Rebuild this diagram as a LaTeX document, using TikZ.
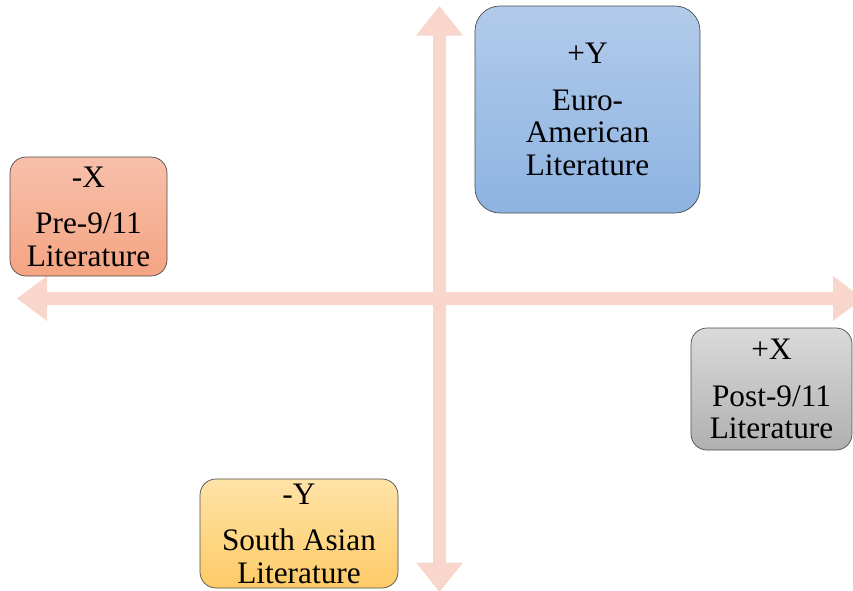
\documentclass[tikz,border=0pt]{standalone}
\usepackage{fontspec}
\setmainfont{Liberation Serif}
\usetikzlibrary{calc}
\begin{document}
\begin{tikzpicture}[x=1pt,y=-1pt,
  box/.style={draw=black!70, line width=0.7pt, rounded corners=16pt, align=center,
    inner sep=0pt, font=\fontsize{31.3}{32.5}\selectfont, text=black},
  axis/.style={fill=axispink, draw=none},
]
\definecolor{axispink}{HTML}{F8D6CB}
\definecolor{bluetop}{HTML}{B2CBEA}
\definecolor{bluebot}{HTML}{8DB3E2}
\definecolor{redtop}{HTML}{F7C0AB}
\definecolor{redbot}{HTML}{F4A482}
\definecolor{graytop}{HTML}{DADADA}
\definecolor{graybot}{HTML}{B0B0B0}
\definecolor{yeltop}{HTML}{FFE3A8}
\definecolor{yelbot}{HTML}{FDCB66}
\useasboundingbox (0,0) rectangle (853,590);
\clip (0,0) rectangle (853,590);
% axes
\coordinate (hl) at (17,298.5);
\coordinate (hr) at (863,298.5);
\coordinate (vt) at (439.5,6);
\coordinate (vb) at (439.5,592);
\path[axis] (hl) -- ++(30,-22.5) -- ++(0,16) -- ($(hr)+(-30,-6.5)$) -- ++(0,-16) -- (hr)
  -- ++(-30,22.5) -- ++(0,-16) -- ($(hl)+(30,6.5)$) -- ++(0,16) -- cycle;
\path[axis] (vt) -- ++(23.5,29.5) -- ++(-17,0) -- ($(vb)+(6.5,-29.5)$) -- ++(17,0) -- (vb)
  -- ++(-23.5,-29.5) -- ++(17,0) -- ($(vt)+(-6.5,29.5)$) -- ++(-17,0) -- cycle;
% boxes
\node[box, rounded corners=25pt, minimum width=225pt, minimum height=207pt,
  top color=bluetop, bottom color=bluebot] (py) at (587.5,109.5)
  {+Y\\[14pt]Euro-\\American\\Literature};
\node[box, minimum width=157pt, minimum height=119pt,
  top color=redtop, bottom color=redbot] (mx) at (88.5,216.5)
  {-X\\[14pt]Pre-9/11\\Literature};
\node[box, minimum width=161pt, minimum height=122pt,
  top color=graytop, bottom color=graybot] (px) at (771.5,389)
  {+X\\[14pt]Post-9/11\\Literature};
\node[box, minimum width=198pt, minimum height=109pt,
  top color=yeltop, bottom color=yelbot] (my) at (299,533.5)
  {-Y\\[14pt]South Asian\\Literature};
\end{tikzpicture}
\end{document}
